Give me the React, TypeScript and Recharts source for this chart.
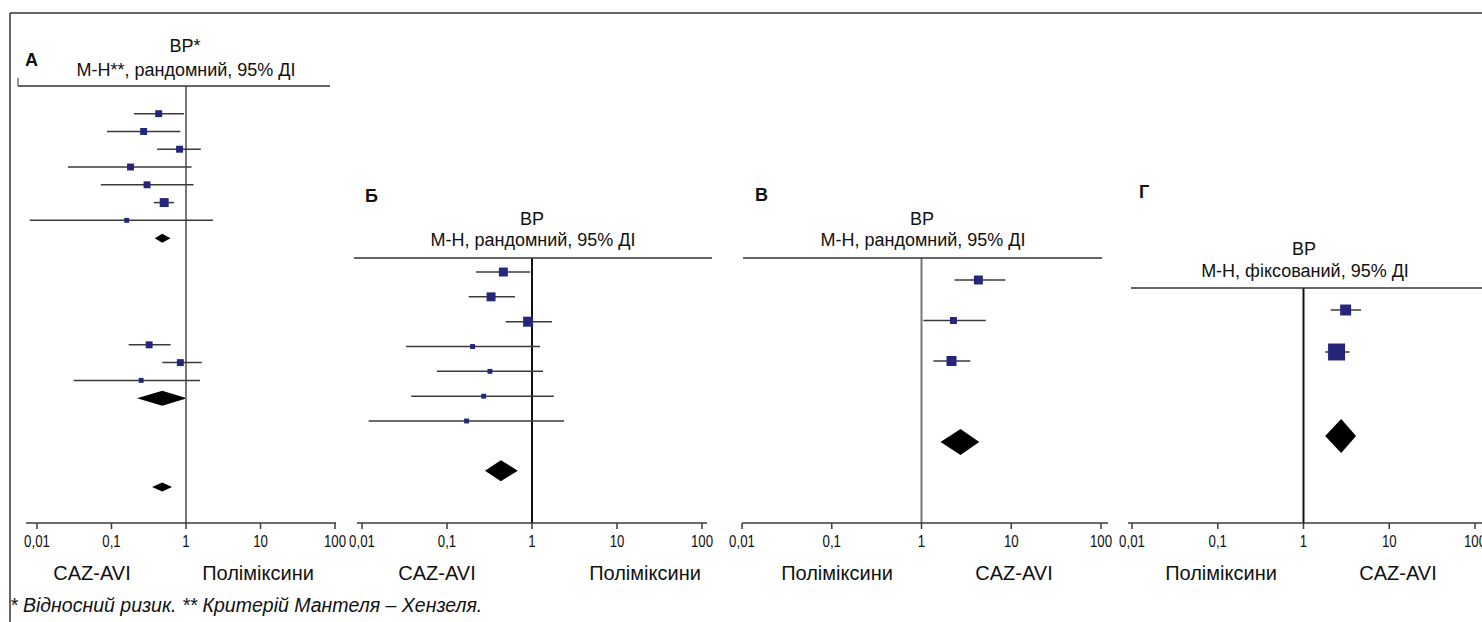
import React from "react";
import {
  ComposedChart,
  Scatter,
  ErrorBar,
  Area,
  XAxis,
  YAxis,
  ReferenceLine,
} from "recharts";

const W = 1482;
const H = 622;
const AXIS_Y = 523;
const FONT = '"Liberation Sans", Arial, sans-serif';
const SQUARE = "#25257a";
const LINE = "#3a3a3a";

const tickValues = [0.01, 0.1, 1, 10, 100];
const tickLabels = ["0,01", "0,1", "1", "10", "100"];

// A: CAZ-AVI vs polymyxins, three subgroups
const aRows = [1, 2, 3, 4, 5, 6, 7, 14, 15, 16];
const aEst = [0.43, 0.27, 0.82, 0.18, 0.3, 0.51, 0.16, 0.32, 0.84, 0.25];
const aLow = [0.2, 0.087, 0.41, 0.026, 0.072, 0.37, 0.008, 0.17, 0.48, 0.031];
const aHigh = [0.94, 0.84, 1.58, 1.19, 1.26, 0.69, 2.3, 0.62, 1.63, 1.54];
const aWeight = [12, 12, 12, 12, 12, 20, 6, 12, 12, 6];
const aPooledRows = [8, 17, 22];
const aPooledEst = [0.48, 0.48, 0.48];
const aPooledLow = [0.38, 0.22, 0.35];
const aPooledHigh = [0.62, 1.03, 0.65];

// Б
const bRows = [1, 2, 3, 4, 5, 6, 7];
const bEst = [0.46, 0.33, 0.9, 0.2, 0.32, 0.27, 0.17];
const bLow = [0.22, 0.18, 0.49, 0.033, 0.076, 0.038, 0.012];
const bHigh = [0.95, 0.63, 1.72, 1.24, 1.35, 1.81, 2.38];
const bWeight = [20, 20, 25, 6, 6, 6, 6];
const bPooledRows = [9];
const bPooledEst = [0.43];
const bPooledLow = [0.28];
const bPooledHigh = [0.68];

// В
const cRows = [1, 2, 3];
const cEst = [4.3, 2.27, 2.16];
const cLow = [2.33, 1.05, 1.36];
const cHigh = [8.6, 5.2, 3.5];
const cWeight = [20, 12, 25];
const cPooledRows = [5];
const cPooledEst = [2.72];
const cPooledLow = [1.63];
const cPooledHigh = [4.4];

// Г
const dRows = [1, 2];
const dEst = [3.1, 2.43];
const dLow = [2.08, 1.79];
const dHigh = [4.7, 3.45];
const dWeight = [30, 72];
const dPooledRows = [4];
const dPooledEst = [2.75];
const dPooledLow = [1.79];
const dPooledHigh = [4.1];

type Panel = {
  key: string;
  letter: string;
  title: string;
  subtitle: string;
  leftLabel: string;
  rightLabel: string;
  rows: number[];
  est: number[];
  low: number[];
  high: number[];
  weight: number[];
  pRows: number[];
  pEst: number[];
  pLow: number[];
  pHigh: number[];
  // layout
  x0: number;
  x1: number;
  p001: number;
  p100: number;
  headerY: number;
  headerX0: number;
  headerX1: number;
  row0: number;
  rowStep: number;
  diamondHalf: number[];
  refColor: string;
  letterX: number;
  letterY: number;
  titleX: number;
  titleY: number;
  subY: number;
  leftLabelX: number;
  rightLabelX: number;
};

const panels: Panel[] = [
  {
    key: "a", letter: "А", title: "ВР*", subtitle: "М-Н**, рандомний, 95% ДІ",
    leftLabel: "CAZ-AVI", rightLabel: "Поліміксини",
    rows: aRows, est: aEst, low: aLow, high: aHigh, weight: aWeight,
    pRows: aPooledRows, pEst: aPooledEst, pLow: aPooledLow, pHigh: aPooledHigh,
    x0: 26, x1: 336, p001: 37, p100: 335,
    headerY: 86, headerX0: 18, headerX1: 330, row0: 95.9, rowStep: 17.78,
    diamondHalf: [4.5, 7.5, 4.5], refColor: "#777",
    letterX: 25, letterY: 66, titleX: 185, titleY: 52, subY: 76,
    leftLabelX: 92, rightLabelX: 258,
  },
  {
    key: "b", letter: "Б", title: "ВР", subtitle: "М-Н, рандомний, 95% ДІ",
    leftLabel: "CAZ-AVI", rightLabel: "Поліміксини",
    rows: bRows, est: bEst, low: bLow, high: bHigh, weight: bWeight,
    pRows: bPooledRows, pEst: bPooledEst, pLow: bPooledLow, pHigh: bPooledHigh,
    x0: 357, x1: 707, p001: 362, p100: 702,
    headerY: 258, headerX0: 354, headerX1: 712, row0: 247.2, rowStep: 24.83,
    diamondHalf: [10.5], refColor: "#111",
    letterX: 365, letterY: 202, titleX: 532, titleY: 225, subY: 246,
    leftLabelX: 437, rightLabelX: 645,
  },
  {
    key: "c", letter: "В", title: "ВР", subtitle: "М-Н, рандомний, 95% ДІ",
    leftLabel: "Поліміксини", rightLabel: "CAZ-AVI",
    rows: cRows, est: cEst, low: cLow, high: cHigh, weight: cWeight,
    pRows: cPooledRows, pEst: cPooledEst, pLow: cPooledLow, pHigh: cPooledHigh,
    x0: 742, x1: 1108, p001: 742, p100: 1101,
    headerY: 258, headerX0: 743, headerX1: 1102, row0: 239.5, rowStep: 40.5,
    diamondHalf: [13], refColor: "#777",
    letterX: 755, letterY: 201, titleX: 922, titleY: 225, subY: 246,
    leftLabelX: 837, rightLabelX: 1014,
  },
  {
    key: "d", letter: "Г", title: "ВР", subtitle: "М-Н, фіксований, 95% ДІ",
    leftLabel: "Поліміксини", rightLabel: "CAZ-AVI",
    rows: dRows, est: dEst, low: dLow, high: dHigh, weight: dWeight,
    pRows: dPooledRows, pEst: dPooledEst, pLow: dPooledLow, pHigh: dPooledHigh,
    x0: 1128, x1: 1482, p001: 1132, p100: 1475,
    headerY: 288, headerX0: 1131, headerX1: 1482, row0: 268, rowStep: 42,
    diamondHalf: [17], refColor: "#111",
    letterX: 1139, letterY: 198, titleX: 1304, titleY: 255, subY: 277,
    leftLabelX: 1221, rightLabelX: 1398,
  },
];

const StudySquare = (props: any) => {
  const { cx, cy, payload } = props;
  if (cx == null || cy == null) return null;
  const s = 2 * Math.sqrt(payload.w);
  return <rect x={cx - s / 2} y={cy - s / 2} width={s} height={s} fill={SQUARE} />;
};

// narrow, tall digits like the original typeface
const AxisTick = (props: any) => {
  const { x, y, payload } = props;
  const i = tickValues.indexOf(payload.value);
  return (
    <g transform={`translate(${x},${y + 13}) scale(0.78,1)`}>
      <text x={0} y={0} textAnchor="middle" fontSize={17} fontFamily={FONT} fill="#111">
        {i >= 0 ? tickLabels[i] : String(payload.value)}
      </text>
    </g>
  );
};

function ForestPanel({ p }: { p: Panel }) {
  const dec = (p.p100 - p.p001) / 4;
  const domain = [
    Math.pow(10, -2 - (p.p001 - p.x0) / dec),
    Math.pow(10, 2 + (p.x1 - p.p100) / dec),
  ];
  const yDomain = [
    (p.headerY - p.row0) / p.rowStep,
    (AXIS_Y - p.row0) / p.rowStep,
  ];
  const studies = p.rows.map((r, i) => ({
    x: p.est[i],
    y: r,
    w: p.weight[i],
    err: [p.est[i] - p.low[i], p.high[i] - p.est[i]],
  }));
  const diamonds = p.pRows.map((r, i) => {
    const h = p.diamondHalf[i] / p.rowStep;
    return [
      { x: p.pLow[i], band: [r, r] },
      { x: p.pEst[i], band: [r - h, r + h] },
      { x: p.pHigh[i], band: [r, r] },
    ];
  });
  const xAxisHeight = 30;
  return (
    <div style={{ position: "absolute", left: 0, top: 0 }}>
      <ComposedChart
        width={W}
        height={H}
        margin={{
          top: p.headerY,
          left: p.x0,
          right: W - p.x1,
          bottom: H - AXIS_Y - xAxisHeight,
        }}
      >
        <XAxis
          type="number"
          dataKey="x"
          scale="log"
          domain={domain}
          allowDataOverflow
          ticks={tickValues}
          tick={<AxisTick />}
          height={xAxisHeight}
          tickSize={6}
          tickMargin={5}
          stroke={LINE}
          strokeWidth={1.5}
          interval={0}
        />
        <YAxis
          type="number"
          dataKey="y"
          domain={yDomain}
          reversed
          hide
          width={0}
          allowDataOverflow
        />
        <ReferenceLine x={1} stroke={p.refColor} strokeWidth={2} />
        {diamonds.map((d, i) => (
          <Area
            key={`dm-${i}`}
            data={d}
            dataKey="band"
            type="linear"
            fill="#000"
            fillOpacity={1}
            stroke="none"
            dot={false}
            activeDot={false}
            isAnimationActive={false}
          />
        ))}
        <Scatter data={studies} shape={StudySquare} isAnimationActive={false}>
          <ErrorBar
            dataKey="err"
            direction="x"
            width={0}
            stroke={LINE}
            strokeWidth={1.5}
            isAnimationActive={false}
          />
        </Scatter>
      </ComposedChart>
    </div>
  );
}

export default function App() {
  return (
    <div
      style={{
        position: "absolute",
        left: 0,
        top: 0,
        width: W,
        height: H,
        background: "#fff",
        overflow: "hidden",
        fontFamily: FONT,
      }}
    >
      {panels.map((p) => (
        <ForestPanel key={p.key} p={p} />
      ))}
      <svg
        width={W}
        height={H}
        style={{ position: "absolute", left: 0, top: 0, pointerEvents: "none" }}
        fontFamily={FONT}
      >
        <line x1={10} y1={13} x2={W} y2={13} stroke="#666" strokeWidth={2} />
        <line x1={10} y1={13} x2={10} y2={H} stroke="#333" strokeWidth={1.5} />
        <line x1={18} y1={78} x2={18} y2={86} stroke="#333" strokeWidth={1} />
        {panels.map((p) => (
          <g key={p.key}>
            <line
              x1={p.headerX0}
              y1={p.headerY}
              x2={p.headerX1}
              y2={p.headerY}
              stroke="#333"
              strokeWidth={1.5}
            />
            <text x={p.letterX} y={p.letterY} fontSize={18} fontWeight="bold" fill="#111">
              {p.letter}
            </text>
            <text x={p.titleX} y={p.titleY} fontSize={18} textAnchor="middle" fill="#111">
              {p.title}
            </text>
            <text x={p.titleX + 1} y={p.subY} fontSize={18} textAnchor="middle" fill="#111">
              {p.subtitle}
            </text>
            <text x={p.leftLabelX} y={580} fontSize={20} textAnchor="middle" fill="#111">
              {p.leftLabel}
            </text>
            <text x={p.rightLabelX} y={580} fontSize={20} textAnchor="middle" fill="#111">
              {p.rightLabel}
            </text>
          </g>
        ))}
        <text x={10} y={612} fontSize={19.5} fontStyle="italic" fill="#111">
          * Відносний ризик. ** Критерій Мантеля – Хензеля.
        </text>
      </svg>
    </div>
  );
}
